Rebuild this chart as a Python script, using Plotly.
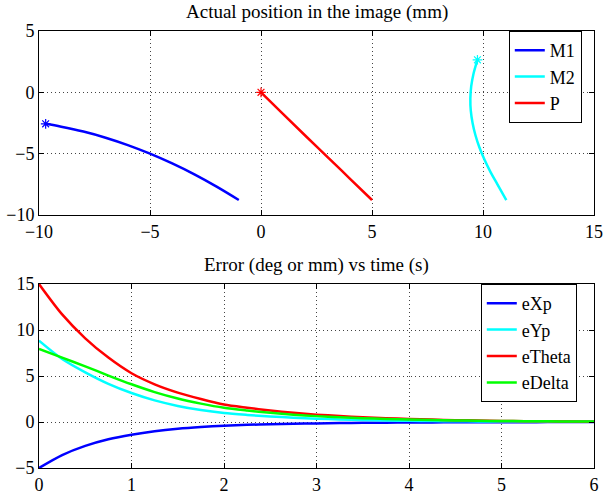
import plotly.graph_objects as go

# ---- Top subplot data (mm) ----
m1_x = [-9.7, -9.0, -8.0, -7.0, -6.0, -5.0, -4.0, -3.0, -2.0, -1.0]
m1_y = [-2.57, -2.8, -3.2, -3.7, -4.3, -5.0, -5.8, -6.69, -7.69, -8.78]
m2_x = [9.75, 9.57, 9.47, 9.43, 9.45, 9.53, 9.66, 9.84, 10.07, 10.34, 10.65, 11.05]
m2_y = [2.65, 1.5, 0.5, -0.5, -1.5, -2.5, -3.5, -4.5, -5.5, -6.5, -7.5, -8.78]
p_x = [0.0, 1.0, 2.0, 3.0, 4.0, 5.0]
p_y = [0.0, -1.78, -3.54, -5.28, -7.03, -8.78]

# ---- Bottom subplot data ----
t = [0, 0.25, 0.5, 0.75, 1, 1.25, 1.5, 1.75, 2, 2.25, 2.5, 2.75, 3, 3.25, 3.5, 3.75,
     4, 4.25, 4.5, 4.75, 5, 5.25, 5.5, 5.75, 6]
e_xp = [-5.0, -3.6, -2.6, -1.88, -1.38, -1.0, -0.73, -0.54, -0.4, -0.31, -0.24, -0.19, -0.15,
        -0.12, -0.09, -0.07, -0.055, -0.043, -0.033, -0.026, -0.02, -0.016, -0.012, -0.009, -0.007]
e_yp = [8.85, 6.85, 5.4, 4.15, 3.15, 2.35, 1.75, 1.3, 0.98, 0.77, 0.6, 0.47, 0.36,
        0.28, 0.22, 0.17, 0.13, 0.1, 0.08, 0.065, 0.05, 0.04, 0.03, 0.025, 0.02]
e_theta = [15.0, 11.7, 9.1, 7.0, 5.3, 4.1, 3.2, 2.5, 1.9, 1.55, 1.25, 1.0, 0.8,
           0.65, 0.52, 0.42, 0.33, 0.26, 0.2, 0.16, 0.12, 0.095, 0.07, 0.055, 0.04]
e_delta = [7.95, 7.0, 6.05, 5.05, 4.1, 3.25, 2.55, 2.0, 1.55, 1.25, 1.0, 0.8, 0.64,
           0.52, 0.42, 0.34, 0.27, 0.21, 0.17, 0.135, 0.11, 0.085, 0.07, 0.055, 0.045]

top_title = "Actual position in the image (mm)"
bottom_title = "Error (deg or mm) vs time (s)"

BLUE = "#0000ff"
CYAN = "#00ffff"
RED = "#ff0000"
GREEN = "#00ff00"
FONT = "'Liberation Serif', 'Times New Roman', Times, serif"

fig = go.Figure()
lw = 2.5

# top
for name, xs, ys, col in [("M1", m1_x, m1_y, BLUE), ("M2", m2_x, m2_y, CYAN), ("P", p_x, p_y, RED)]:
    fig.add_trace(go.Scatter(x=xs, y=ys, mode="lines", name=name,
                             line=dict(color=col, width=lw, shape="spline", smoothing=1.0),
                             xaxis="x", yaxis="y", legend="legend"))
for xs, ys, col in [(m1_x, m1_y, BLUE), (m2_x, m2_y, CYAN), (p_x, p_y, RED)]:
    fig.add_trace(go.Scatter(x=[xs[0]], y=[ys[0]], mode="markers", showlegend=False,
                             marker=dict(symbol="asterisk-open", size=8, color=col,
                                         line=dict(color=col, width=1.2)),
                             xaxis="x", yaxis="y"))

# bottom
for name, ys, col in [("eXp", e_xp, BLUE), ("eYp", e_yp, CYAN), ("eTheta", e_theta, RED), ("eDelta", e_delta, GREEN)]:
    fig.add_trace(go.Scatter(x=t, y=ys, mode="lines", name=name,
                             line=dict(color=col, width=lw, shape="spline", smoothing=0.8),
                             xaxis="x2", yaxis="y2", legend="legend2"))

axis_common = dict(showline=True, linecolor="black", linewidth=1, mirror="ticks", ticks="inside",
                   ticklen=5, tickcolor="black", showgrid=True, gridcolor="#444444", griddash="1px,3px",
                   gridwidth=1, zeroline=False, automargin=False,
                   tickfont=dict(family=FONT, size=18, color="black"))

top_dom = [0.579, 1.0]
bot_dom = [0.0, 0.421]

fig.update_layout(
    width=604, height=497,
    margin=dict(l=39, r=10, t=31, b=29, autoexpand=False),
    paper_bgcolor="white", plot_bgcolor="white",
    font=dict(family=FONT, color="black"),
    xaxis=dict(range=[-10, 15], dtick=5, anchor="y", domain=[0, 1], **axis_common),
    yaxis=dict(range=[-10, 5], dtick=5, anchor="x", domain=top_dom, **axis_common),
    xaxis2=dict(range=[0, 6], dtick=1, anchor="y2", domain=[0, 1], **axis_common),
    yaxis2=dict(range=[-5, 15], dtick=5, anchor="x2", domain=bot_dom, **axis_common),
    legend=dict(x=0.978, y=1.0, xanchor="right", yanchor="top", bordercolor="black", borderwidth=1,
                bgcolor="white", font=dict(family=FONT, size=18, color="black"), tracegroupgap=0),
    legend2=dict(x=0.969, y=0.421, xanchor="right", yanchor="top", bordercolor="black", borderwidth=1,
                 bgcolor="white", font=dict(family=FONT, size=18, color="black"), tracegroupgap=0),
    showlegend=True,
    annotations=[
        dict(text=top_title, x=0.5, y=top_dom[1], xref="paper", yref="paper", xanchor="center",
             yanchor="bottom", yshift=6, showarrow=False, font=dict(family=FONT, size=19, color="black")),
        dict(text=bottom_title, x=0.5, y=bot_dom[1], xref="paper", yref="paper", xanchor="center",
             yanchor="bottom", yshift=6, showarrow=False, font=dict(family=FONT, size=19, color="black")),
    ],
)

fig.write_html("out.html", config={"displayModeBar": False},
               post_script="document.body.style.margin='0px';document.body.style.overflow='hidden';")
